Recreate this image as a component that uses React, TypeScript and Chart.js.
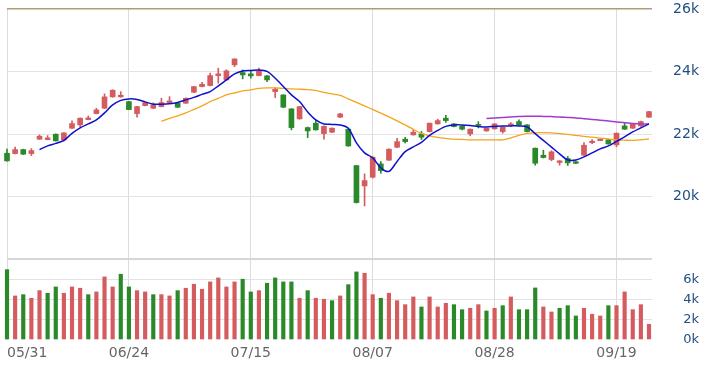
import React, { useEffect, useRef } from "react";
import { Chart, registerables } from "chart.js";

Chart.register(...registerables);

// ---------- data ----------
const dates = [
  "05/31",
  "06/03", "06/04", "06/05", "06/06", "06/07",
  "06/11", "06/12", "06/13", "06/14",
  "06/17", "06/18", "06/19", "06/20", "06/21",
  "06/24", "06/25", "06/26", "06/27", "06/28",
  "07/01", "07/02", "07/03", "07/04", "07/05",
  "07/08", "07/09", "07/10", "07/11", "07/12",
  "07/15", "07/16", "07/17", "07/18", "07/19",
  "07/22", "07/23", "07/26",
  "07/29", "07/30", "07/31", "08/01", "08/02",
  "08/05", "08/06", "08/07", "08/08", "08/09",
  "08/12", "08/13", "08/14", "08/15", "08/16",
  "08/19", "08/20", "08/21", "08/22", "08/23",
  "08/26", "08/27", "08/28", "08/29", "08/30",
  "09/02", "09/03", "09/04", "09/05", "09/06",
  "09/09", "09/10", "09/11", "09/12", "09/13",
  "09/16", "09/18", "09/19", "09/20",
  "09/23", "09/24", "09/25",
];

const tickDates = ["05/31", "06/24", "07/15", "08/07", "08/28", "09/19"];

const opens = [
  21393, 21380, 21508, 21380, 21840, 21827, 22000, 21818, 22192, 22297,
  22466, 22658, 22830, 23192, 23192, 23042, 22658, 22914, 22830, 22882,
  23010, 22990, 22990, 23342, 23521, 23553, 23872, 23735, 24214, 23968,
  23927, 23872, 23863, 23361, 23255, 22808, 22489, 22211, 22351, 22020,
  22064, 22543, 22160, 20997, 20348, 20626, 21051, 21169, 21584, 21840,
  21978, 22010, 22083, 22329, 22511, 22329, 22265, 22010, 22310, 22106,
  22170, 22083, 22287, 22403, 22297, 21553, 21329, 21191, 21097, 21223,
  21120, 21329, 21731, 21795, 21818, 21659, 22265, 22192, 22265, 22543,
];
const highs = [
  21521, 21585, 21520, 21540, 21977, 21955, 22010, 22050, 22425, 22520,
  22585, 22830, 23288, 23420, 23361, 23050, 22890, 23020, 23000, 23150,
  23200, 23000, 23160, 23530, 23661, 23949, 24108, 24060, 24410, 24054,
  24020, 24110, 23880, 23480, 23260, 22820, 22890, 22230, 22440, 22270,
  22200, 22670, 22170, 21000, 20732, 21280, 21124, 21530, 21872, 21900,
  22150, 22090, 22360, 22480, 22600, 22340, 22280, 22170, 22400, 22200,
  22340, 22240, 22370, 22457, 22310, 21560, 21489, 21470, 21160, 21290,
  21140, 21730, 21830, 21850, 21830, 22040, 22350, 22340, 22420, 22730,
];
const lows = [
  21140, 21370, 21350, 21316, 21830, 21820, 21780, 21780, 22180, 22243,
  22460, 22650, 22820, 23180, 23180, 22780, 22543, 22900, 22820, 22870,
  23000, 22850, 22980, 23330, 23510, 23540, 23630, 23720, 24160, 23767,
  23790, 23860, 23680, 23169, 22850, 22137, 22480, 21891, 22130, 21840,
  22050, 22530, 21610, 19800, 19710, 20600, 20754, 21160, 21570, 21720,
  21970, 21830, 22070, 22320, 22380, 22230, 22140, 21950, 22200, 22090,
  22160, 22032, 22250, 22290, 22070, 21010, 21240, 21150, 21010, 21000,
  21060, 21320, 21700, 21790, 21680, 21600, 22150, 22180, 22250, 22540,
];
const closes = [
  21147, 21508, 21361, 21476, 21936, 21882, 21786, 22041, 22339, 22511,
  22520, 22776, 23192, 23405, 23246, 22786, 22882, 23010, 22936, 23010,
  23064, 22862, 23150, 23521, 23597, 23872, 23927, 24022, 24405, 23895,
  23863, 24022, 23735, 23438, 22862, 22211, 22882, 22105, 22137, 22250,
  22192, 22649, 21626, 19815, 20518, 21265, 20837, 21521, 21763, 21763,
  22064, 21904, 22351, 22435, 22435, 22243, 22160, 22160, 22280, 22192,
  22329, 22224, 22329, 22297, 22083, 21073, 21255, 21436, 21148, 21083,
  21070, 21648, 21776, 21840, 21690, 22032, 22160, 22329, 22403, 22722,
];

const volumes = [
  6980, 4350, 4480, 4120, 4880, 4620, 5250, 4620, 5250, 5120,
  4480, 4750, 6250, 5250, 6520, 5250, 4880, 4750, 4480, 4480,
  4350, 4880, 5120, 5520, 5020, 5750, 6150, 5250, 5750, 6020,
  4750, 4880, 5620, 6150, 5750, 5750, 4120, 4880, 4120, 4020,
  3880, 4350, 5480, 6750, 6620, 4480, 4120, 4620, 3880, 3480,
  4250, 3250, 4250, 3250, 3620, 3480, 2980, 3120, 3480, 2850,
  3120, 3380, 4250, 2980, 2980, 5150, 3250, 2750, 3120, 3380,
  2350, 3120, 2520, 2350, 3380, 3380, 4750, 2980, 3480, 1520,
];
// true = closed above previous close (red), false = below (green)
const volumeUp = [
  false, true, false, true, true, false, false, true, true, true,
  false, true, true, true, false, false, true, true, false, true,
  true, false, true, true, true, true, true, true, true, false,
  false, true, false, false, false, false, true, false, true, true,
  false, true, false, false, true, true, false, true, true, true,
  true, false, true, true, true, false, false, true, true, false,
  true, false, true, false, false, false, true, true, false, false,
  false, true, true, true, false, true, true, true, true, true,
];

const ma5 = [
  null, null, null, null, 21508, 21626, 21706, 21802, 22025, 22201,
  22329, 22457, 22680, 22936, 23080, 23128, 23112, 23032, 22958, 22958,
  22974, 23016, 23096, 23176, 23272, 23361, 23543, 23735, 23927, 24022,
  24038, 24054, 24006, 23789, 23527, 23255, 23042, 22712, 22457, 22329,
  22313, 22297, 22192, 21722, 21402, 21243, 20923, 20811, 21131, 21444,
  21594, 21738, 21962, 22121, 22249, 22297, 22297, 22281, 22249, 22233,
  22249, 22265, 22265, 22265, 22233, 22016, 21802, 21588, 21371, 21179,
  21179, 21275, 21402, 21530, 21626, 21770, 21914, 22073, 22201, 22329,
];
const ma20 = [
  null, null, null, null, null, null, null, null, null, null,
  null, null, null, null, null, null, null, null, null, 22412,
  22505, 22585, 22680, 22792, 22904, 23042, 23144, 23256, 23320, 23383,
  23415, 23463, 23479, 23479, 23463, 23447, 23438, 23425, 23399, 23335,
  23288, 23240, 23128, 23016, 22904, 22792, 22671, 22553, 22425, 22297,
  22153, 22025, 21946, 21898, 21866, 21840, 21834, 21818, 21818, 21818,
  21818, 21818, 21882, 21962, 22025, 22042, 22051, 22042, 22019, 21994,
  21962, 21930, 21904, 21875, 21850, 21818, 21808, 21802, 21818, 21850,
];
const ma60 = [
  null, null, null, null, null, null, null, null, null, null,
  null, null, null, null, null, null, null, null, null, null,
  null, null, null, null, null, null, null, null, null, null,
  null, null, null, null, null, null, null, null, null, null,
  null, null, null, null, null, null, null, null, null, null,
  null, null, null, null, null, null, null, null, null, 22505,
  22521, 22537, 22553, 22569, 22575, 22575, 22569, 22562, 22553, 22537,
  22521, 22495, 22473, 22447, 22425, 22393, 22368, 22345, 22329, 22323,
];

const priceTicks = [18000, 20000, 22000, 24000, 26000];
const volumeTicks = [0, 2000, 4000, 6000, 8000];

// ---------- styles ----------
const RED = "#d45c5e";
const GREEN = "#2a8a2a";
const GRID = "#e3e3e3";
const AXIS_BLUE = "#234f80";
const FONT = "DejaVu Sans";

export default function App() {
  const ref = useRef<HTMLCanvasElement | null>(null);

  useEffect(() => {
    document.body.style.margin = "0";
    const canvas = ref.current;
    if (!canvas) return;

    const candleColors = opens.map((o, i) => (closes[i] >= o ? RED : GREEN));
    const volColors = volumeUp.map((u) => (u ? RED : GREEN));
    const lastIndex = dates.length - 1;
    const tickIndices = tickDates.map((d) => dates.indexOf(d)).concat([lastIndex]);

    const fitY = (s: any) => {
      s.width = 50;
      s.paddingTop = 0;
      s.paddingBottom = 0;
    };

    const chart = new Chart(canvas, {
      type: "bar",
      data: {
        labels: dates,
        datasets: [
          {
            type: "line",
            data: ma5,
            yAxisID: "y",
            borderColor: "#1010cc",
            borderWidth: 1.5,
            pointRadius: 0,
            tension: 0.3,
            order: 0,
          } as any,
          {
            type: "line",
            data: ma20,
            yAxisID: "y",
            borderColor: "#f4a41c",
            borderWidth: 1.3,
            pointRadius: 0,
            tension: 0.3,
            order: 0,
          } as any,
          {
            type: "line",
            data: ma60,
            yAxisID: "y",
            borderColor: "#a43ad0",
            borderWidth: 1.5,
            pointRadius: 0,
            tension: 0.3,
            order: 0,
          } as any,
          {
            type: "bar",
            data: opens.map((o, i) => [o, closes[i]]),
            yAxisID: "y",
            backgroundColor: candleColors,
            barThickness: 5,
            minBarLength: 1,
            grouped: false,
            clip: false,
            order: 1,
          } as any,
          {
            type: "bar",
            data: lows.map((l, i) => [l, highs[i]]),
            yAxisID: "y",
            backgroundColor: candleColors,
            barThickness: 1,
            grouped: false,
            clip: false,
            order: 2,
          } as any,
          {
            type: "bar",
            data: volumes,
            yAxisID: "yv",
            backgroundColor: volColors,
            barThickness: 3.5,
            grouped: false,
            clip: false,
            order: 2,
          } as any,
        ],
      },
      options: {
        responsive: false,
        animation: false,
        events: [],
        layout: { padding: { left: 7, right: 9, top: 9, bottom: 11.5 } },
        plugins: { legend: { display: false }, tooltip: { enabled: false } },
        scales: {
          x: {
            type: "category",
            offset: false,
            grid: {
              offset: false,
              drawTicks: false,
              color: (ctx: any) =>
                ctx.tick && ctx.tick.value === lastIndex ? "rgba(0,0,0,0)" : "#dcdcdc",
            },
            border: { display: false },
            afterBuildTicks: (s: any) => {
              s.ticks = tickIndices.map((v) => ({ value: v }));
            },
            afterFit: (s: any) => {
              s.height = 22;
            },
            ticks: {
              autoSkip: false,
              maxRotation: 0,
              align: "inner",
              padding: 5,
              color: "#666666",
              font: { family: FONT, size: 14 },
              callback: (v: any) => (tickDates.includes(dates[v]) ? dates[v] : ""),
            },
          },
          y: {
            type: "linear",
            position: "right",
            stack: "panels",
            stackWeight: 250.4,
            min: 18000,
            max: 26000,
            afterBuildTicks: (s: any) => {
              s.ticks = priceTicks.map((v) => ({ value: v }));
            },
            afterFit: fitY,
            border: { display: false },
            grid: {
              drawTicks: true,
              tickLength: 3,
              color: (ctx: any) => {
                const v = ctx.tick ? ctx.tick.value : 0;
                if (v === 26000) return "#b09c78";
                if (v === 18000) return "#d6d6d6";
                return GRID;
              },
              lineWidth: (ctx: any) => {
                const v = ctx.tick ? ctx.tick.value : 0;
                if (v === 26000) return 1.5;
                if (v === 18000) return 2;
                return 1;
              },
            },
            ticks: {
              autoSkip: false,
              crossAlign: "far",
              padding: 4,
              color: AXIS_BLUE,
              font: { family: FONT, size: 14 },
              callback: (v: any) => (v === 18000 ? "" : v / 1000 + "k"),
            },
          },
          yv: {
            type: "linear",
            position: "right",
            stack: "panels",
            stackWeight: 80.1,
            min: 0,
            max: 8000,
            afterBuildTicks: (s: any) => {
              s.ticks = volumeTicks.map((v) => ({ value: v }));
            },
            afterFit: fitY,
            border: { display: false },
            grid: {
              drawTicks: true,
              tickLength: 3,
              color: (ctx: any) => {
                const v = ctx.tick ? ctx.tick.value : 0;
                if (v === 0 || v === 8000) return "rgba(0,0,0,0)";
                return GRID;
              },
            },
            ticks: {
              autoSkip: false,
              crossAlign: "far",
              padding: 4,
              color: AXIS_BLUE,
              font: { family: FONT, size: 13 },
              callback: (v: any) => (v === 8000 ? "" : v / 1000 + "k"),
            },
          },
        } as any,
      },
    });

    return () => chart.destroy();
  }, []);

  return (
    <div style={{ width: 708, height: 373 }}>
      <canvas ref={ref} width={708} height={373} style={{ display: "block" }} />
    </div>
  );
}
